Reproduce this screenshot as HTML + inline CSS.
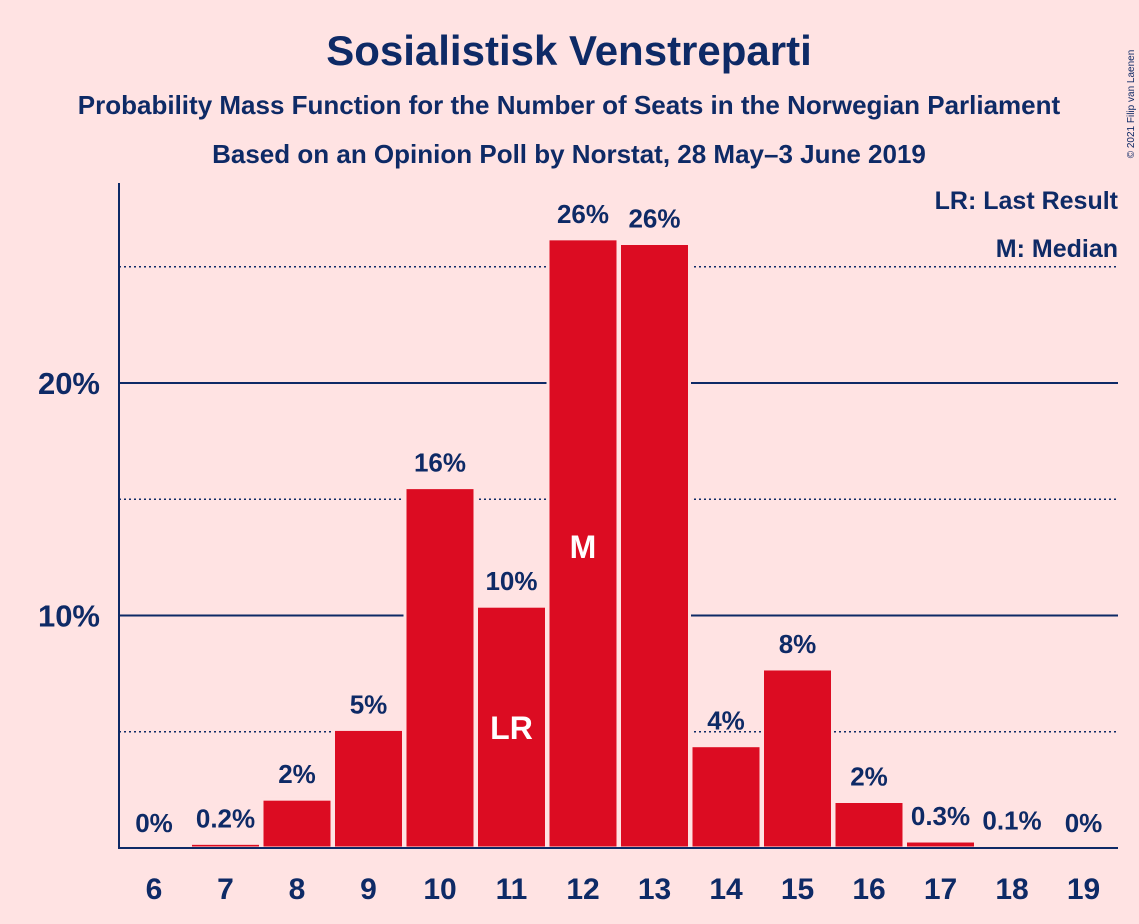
<!DOCTYPE html>
<html><head><meta charset="utf-8">
<style>
body{margin:0;background:#ffe3e3;}
svg{display:block;font-family:"Liberation Sans",sans-serif;}
</style></head>
<body>
<svg id="chart" width="1139" height="924" viewBox="0 0 1139 924">
<rect width="1139" height="924" fill="#ffe3e3"/>
<text x="569" y="65" text-anchor="middle" font-size="42" font-weight="bold" fill="#0e2a66">Sosialistisk Venstreparti</text>
<text x="569" y="114" text-anchor="middle" font-size="26" font-weight="bold" fill="#0e2a66">Probability Mass Function for the Number of Seats in the Norwegian Parliament</text>
<text x="569" y="163" text-anchor="middle" font-size="26" font-weight="bold" fill="#0e2a66">Based on an Opinion Poll by Norstat, 28 May–3 June 2019</text>
<text transform="translate(1134,104) rotate(-90)" text-anchor="middle" font-size="10" fill="#0e2a66">© 2021 Filip van Laenen</text>
<g id="grid"></g>
<g id="bars"></g>
<g id="labels"></g>
<line x1="119" y1="183" x2="119" y2="849" stroke="#0e2a66" stroke-width="2"/>
<line x1="118" y1="848" x2="1118" y2="848" stroke="#0e2a66" stroke-width="2"/>
<text x="1118" y="209" text-anchor="end" font-size="25" font-weight="bold" fill="#0e2a66">LR: Last Result</text>
<text x="1118" y="257" text-anchor="end" font-size="25" font-weight="bold" fill="#0e2a66">M: Median</text>
</svg>
<script>
const seats=[6,7,8,9,10,11,12,13,14,15,16,17,18,19];
const probs=[0,0.2,2.1,5.1,15.5,10.4,26.2,26.0,4.4,7.7,2.0,0.3,0.1,0];
const valueLabels=["0%","0.2%","2%","5%","16%","10%","26%","26%","4%","8%","2%","0.3%","0.1%","0%"];
const gridVals=[5,10,15,20,25];
const yTickVals=[10,20];
const yTickLabels=["10%","20%"];
const lastResult=11, median=12;
const NS="http://www.w3.org/2000/svg";
const y=v=>848-v*23.25;
const x=s=>154+(s-6)*71.5;
const bw=70;
function mk(tag,attrs,parent){const e=document.createElementNS(NS,tag);for(const k in attrs)e.setAttribute(k,attrs[k]);parent.appendChild(e);return e;}
const grid=document.getElementById('grid'),bars=document.getElementById('bars'),labels=document.getElementById('labels');
gridVals.forEach(v=>{
  const major=v%10===0;
  const l=mk('line',{x1:119,x2:1118,y1:y(v),y2:y(v),stroke:'#0e2a66','stroke-width':major?2:1.5,'stroke-dasharray':major?'none':'2,3'},grid);
  
  
});
yTickVals.forEach((v,i)=>{
  const t=mk('text',{x:100,y:y(v)+11,'text-anchor':'end','font-size':31,'font-weight':'bold',fill:'#0e2a66'},labels);
  t.textContent=yTickLabels[i];
  
  
});
seats.forEach((s,i)=>{
  const p=probs[i];
  if(p>0){
    const r=mk('rect',{x:x(s)-bw/2,y:y(p),width:bw,height:848-y(p),fill:'#dc0c22',stroke:'#ffe3e3','stroke-width':3},bars);
    
    
  }
  const t=mk('text',{x:x(s),y:y(p)-16,'text-anchor':'middle','font-size':26,'font-weight':'bold',fill:'#0e2a66'},labels);
  t.textContent=valueLabels[i];
  
  
  const xt=mk('text',{x:x(s),y:899,'text-anchor':'middle','font-size':30,'font-weight':'bold',fill:'#0e2a66'},labels);
  xt.textContent=s;
  
  
  if(s===lastResult||s===median){
    const m=mk('text',{x:x(s),y:s===lastResult?y(5.2)+12:y(13)+12,'text-anchor':'middle','font-size':32,'font-weight':'bold',fill:'#ffffff'},labels);
    m.textContent=s===lastResult?'LR':'M';
    
    
  }
});
</script>
</body></html>
